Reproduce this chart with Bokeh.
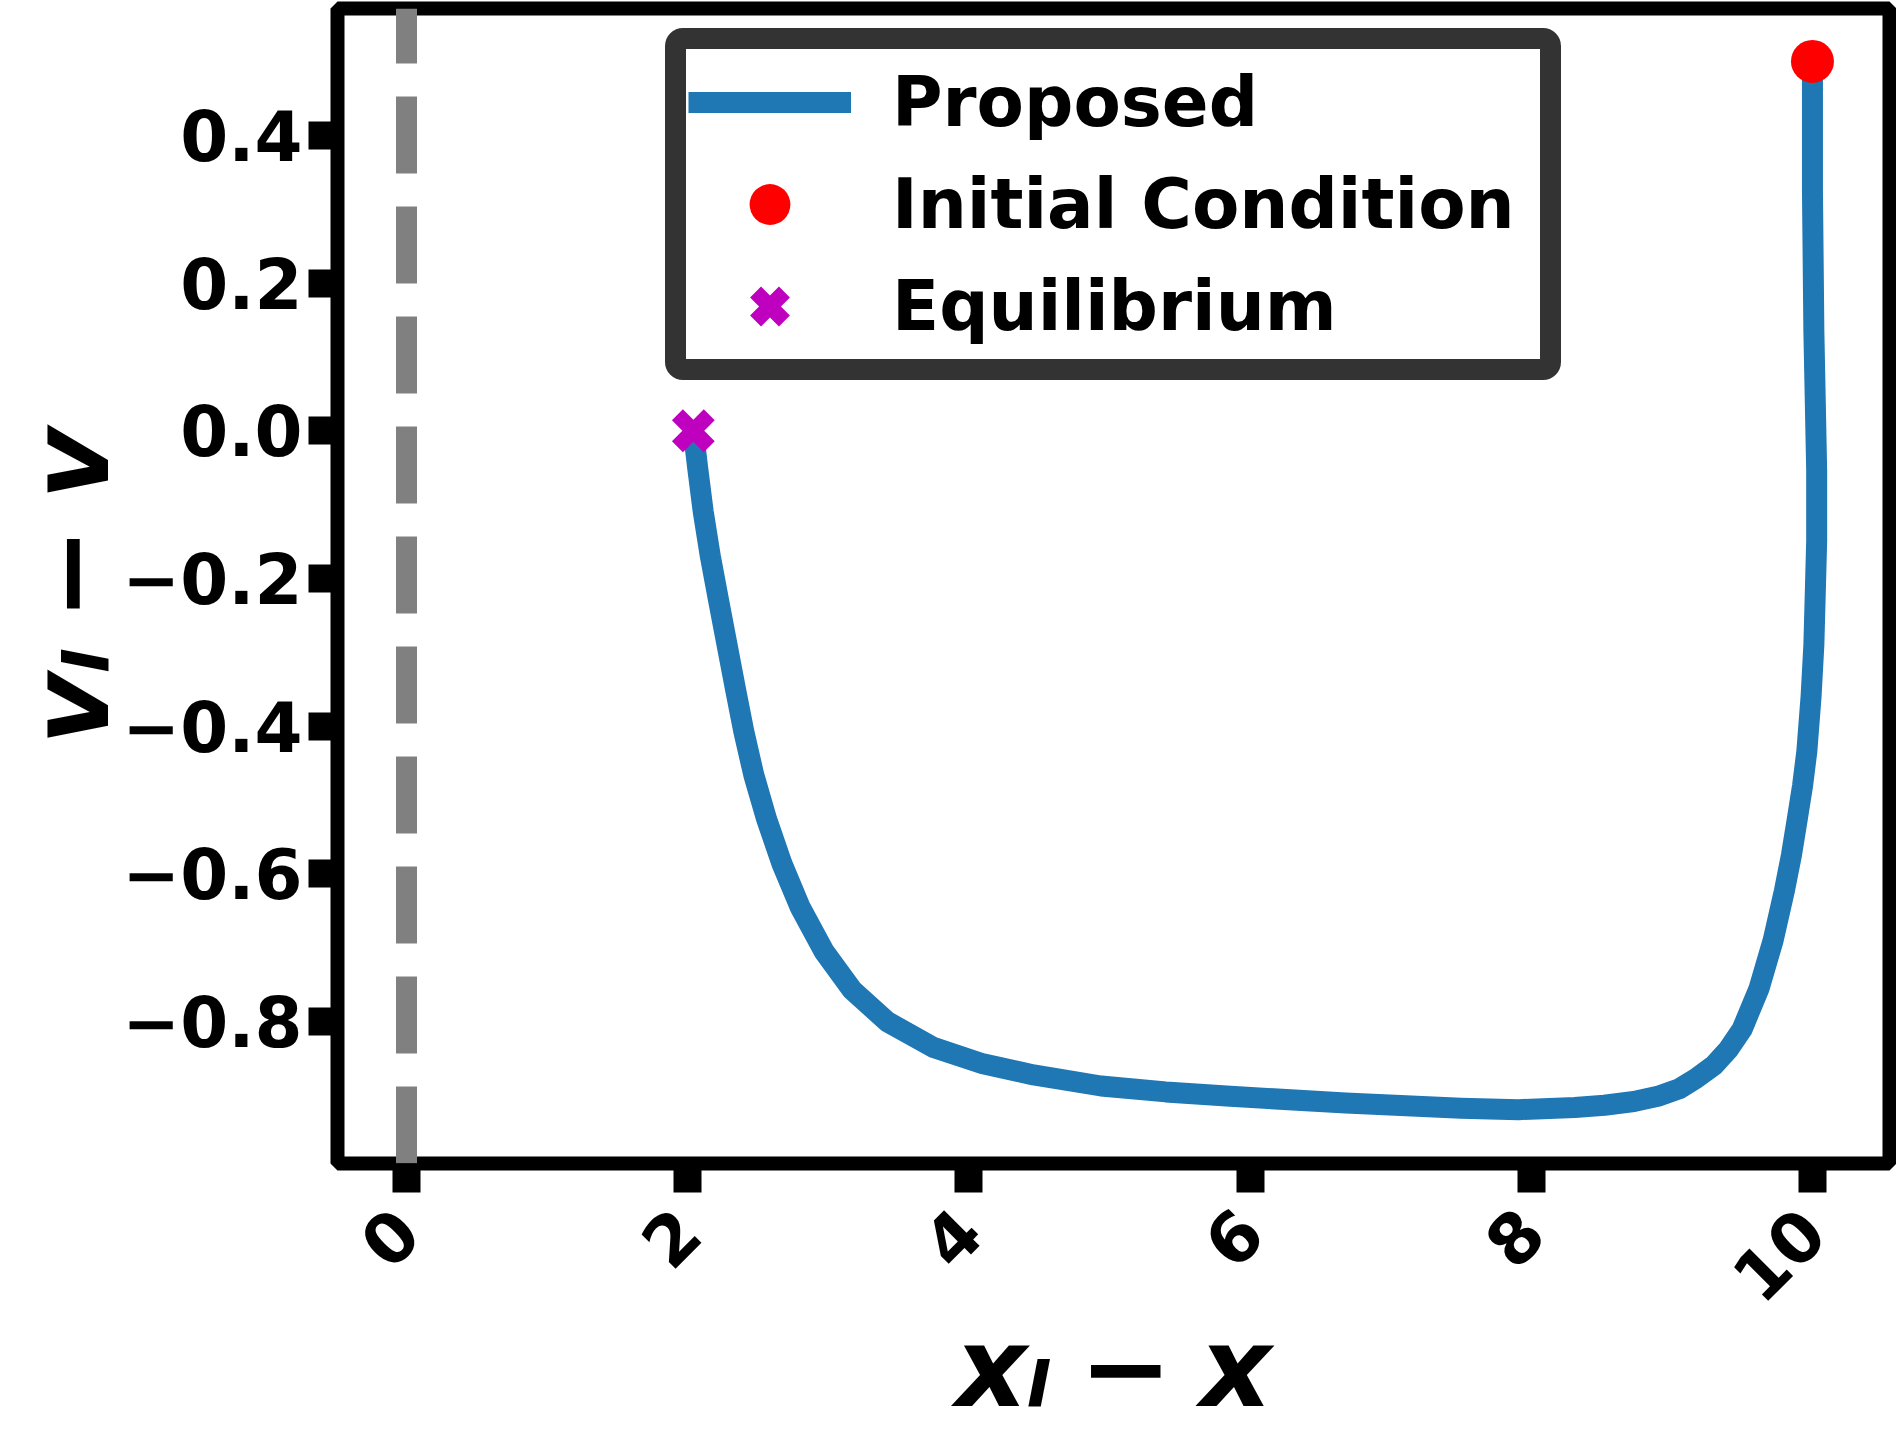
import math
from bokeh.plotting import figure
from bokeh.models import (Range1d, FixedTicker, CustomJSTickFormatter, Legend, LegendItem)
from bokeh.embed import file_html
from bokeh.resources import INLINE

# ---- data ----
traj_x = [10.00, 10.00, 10.01, 10.03, 10.03, 10.02, 10.01, 9.99, 9.96, 9.93,
          9.89, 9.85, 9.80, 9.72, 9.62, 9.50, 9.40, 9.30, 9.17, 9.05,
          8.90, 8.73, 8.52, 8.31, 7.91, 7.50, 6.68, 5.86, 5.40, 4.94,
          4.46, 4.10, 3.75, 3.42, 3.17, 2.97, 2.80, 2.67, 2.56, 2.47,
          2.40, 2.34, 2.28, 2.22, 2.16, 2.11, 2.07, 2.04]
traj_y = [0.500, 0.326, 0.135, -0.054, -0.149, -0.220, -0.290, -0.360, -0.434, -0.480,
          -0.528, -0.575, -0.623, -0.690, -0.755, -0.810, -0.838, -0.859, -0.877, -0.891,
          -0.901, -0.908, -0.913, -0.916, -0.919, -0.917, -0.910, -0.901, -0.895, -0.887,
          -0.872, -0.857, -0.835, -0.800, -0.757, -0.705, -0.645, -0.586, -0.525, -0.466,
          -0.408, -0.350, -0.290, -0.230, -0.169, -0.109, -0.049, 0.000]
init_x = [10.0]
init_y = [0.5]
eq_x = [2.04]
eq_y = [0.0]
vline_x = 0.0
x_ticks = [0, 2, 4, 6, 8, 10]
y_ticks = [-0.8, -0.6, -0.4, -0.2, 0.0, 0.2, 0.4]
legend_labels = ["Proposed", "Initial Condition", "Equilibrium"]
x_title = "x\u2097\u2005\u2212\u2005x"
y_title = "v\u2097\u2005\u2212\u2005v"

X_LO, X_HI = -0.491, 10.548
Y_LO, Y_HI = -0.9919, 0.5716

FONT = "DejaVu Sans"

p = figure(width=1896, height=1435, x_range=Range1d(X_LO, X_HI), y_range=Range1d(Y_LO, Y_HI),
           output_backend="svg", toolbar_location=None, title=None,
           min_border_left=337, min_border_right=7, min_border_top=8, min_border_bottom=270)
p.background_fill_color = "white"
p.border_fill_color = "white"
p.outline_line_color = "black"
p.outline_line_width = 14
p.xgrid.visible = False
p.ygrid.visible = False

p.xaxis.ticker = FixedTicker(ticks=x_ticks)
p.yaxis.ticker = FixedTicker(ticks=y_ticks)
p.xaxis.formatter = CustomJSTickFormatter(code="return tick.toFixed(0);")
p.yaxis.formatter = CustomJSTickFormatter(
    code="return (tick < -1e-9 ? '\\u2212' : '') + Math.abs(tick).toFixed(1);")

for ax in (p.xaxis[0], p.yaxis[0]):
    ax.axis_line_color = None
    ax.major_tick_out = 29
    ax.major_tick_in = 0
    ax.major_tick_line_width = 28
    ax.major_tick_line_color = "black"
    ax.minor_tick_line_color = None
    ax.major_label_text_font = FONT
    ax.major_label_text_font_size = "69px"
    ax.major_label_text_font_style = "bold"
    ax.major_label_text_color = "black"
    ax.axis_label_text_font = FONT
    ax.axis_label_text_font_size = "111px"
    ax.axis_label_text_font_style = "bold italic"
    ax.axis_label_text_color = "black"

p.xaxis.axis_label = x_title
p.yaxis.axis_label = y_title
p.yaxis.major_label_standoff = 6
p.xaxis.major_label_standoff = 28
p.xaxis.major_label_orientation = math.pi / 4
p.xaxis.axis_label_standoff = -24
p.yaxis.axis_label_standoff = -15

# dashed vertical reference line at x = 0, from bottom to top of the axes
p.line(x=[vline_x, vline_x], y=[Y_LO, Y_HI], line_color="#808080", line_width=21,
       line_dash="77 33", line_cap="butt")

curve = p.line(x=traj_x, y=traj_y, line_color="#1f77b4", line_width=21, line_join="round")
ic = p.scatter(x=init_x, y=init_y, marker="circle", size=43, fill_color="red", line_color=None)
eq = p.scatter(x=eq_x, y=eq_y, marker="x", size=45, line_color="#bf00bf", line_width=15.5,
               line_cap="butt")

legend = Legend(items=[LegendItem(label=legend_labels[0], renderers=[curve]),
                       LegendItem(label=legend_labels[1], renderers=[ic]),
                       LegendItem(label=legend_labels[2], renderers=[eq])],
                location=(328, 783), orientation="vertical",
                glyph_width=163, glyph_height=102, label_standoff=41, label_width=646,
                spacing=0, padding=2, margin=0,
                border_line_color="#333333", border_line_width=21, border_line_alpha=1.0,
                background_fill_color="white", background_fill_alpha=1.0,
                label_text_font=FONT, label_text_font_size="69px", label_text_font_style="bold",
                label_text_color="black")
if "border_radius" in Legend.properties():
    legend.border_radius = 18
p.add_layout(legend)

open("out.html", "w").write(file_html(p, INLINE))
